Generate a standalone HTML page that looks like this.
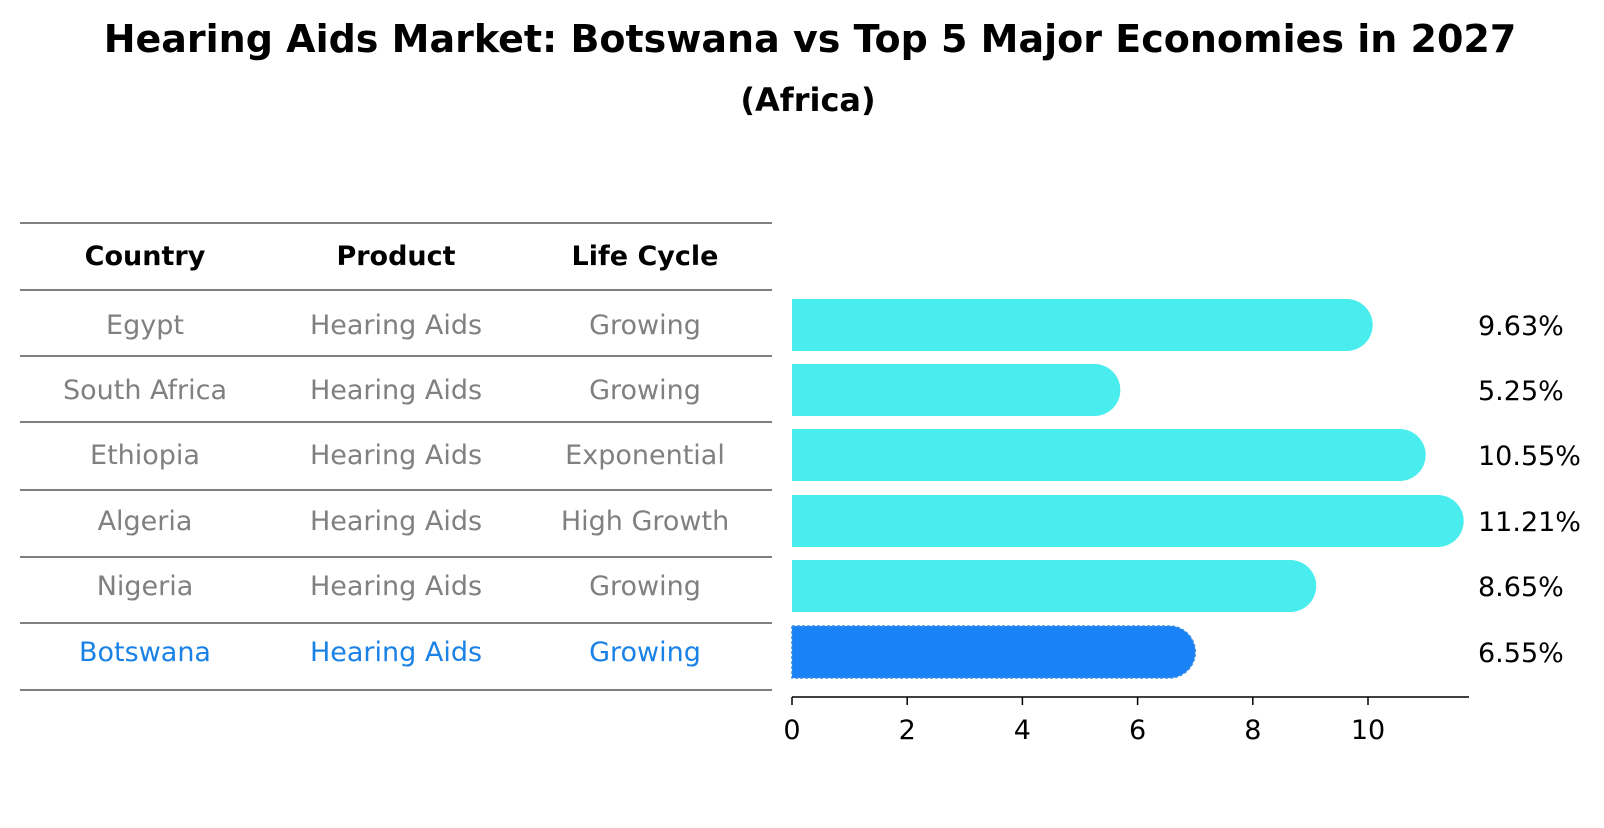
<!DOCTYPE html>
<html><head><meta charset="utf-8"><style>
body{margin:0;background:#fff;font-family:"Liberation Sans","DejaVu Sans",sans-serif;}
</style></head><body>
<svg width="1604" height="823" xmlns="http://www.w3.org/2000/svg" font-family="DejaVu Sans, Liberation Sans, sans-serif">
<text x="810" y="52" text-anchor="middle" font-size="38" font-weight="bold">Hearing Aids Market: Botswana vs Top 5 Major Economies in 2027</text>
<text x="808" y="111" text-anchor="middle" font-size="32" font-weight="bold">(Africa)</text>
<g id="table"></g>
<g id="bars"></g>
</svg>
<script>
const countries=["Egypt","South Africa","Ethiopia","Algeria","Nigeria","Botswana"];
const products=["Hearing Aids","Hearing Aids","Hearing Aids","Hearing Aids","Hearing Aids","Hearing Aids"];
const lifeCycles=["Growing","Growing","Exponential","High Growth","Growing","Growing"];
const values=[9.63,5.25,10.55,11.21,8.65,6.55];
const ticks=[0,2,4,6,8,10];
const NS="http://www.w3.org/2000/svg";
function mk(tag,attrs,parent){const e=document.createElementNS(NS,tag);for(const k in attrs)e.setAttribute(k,attrs[k]);parent.appendChild(e);return e;}
const tbl=document.getElementById('table'),bars=document.getElementById('bars');
const lines=[223,290,356,422,490,557,623,690];
lines.forEach(y=>{const l=mk('line',{x1:20,x2:772,y1:y,y2:y,stroke:'#000','stroke-width':1.2,'shape-rendering':'crispEdges'},tbl);

});
const cols=[145,396,645];
["Country","Product","Life Cycle"].forEach((h,i)=>{const t=mk('text',{x:cols[i],y:265,'text-anchor':'middle','font-size':27,'font-weight':'bold'},tbl);t.textContent=h;

});
const rowY=[325,390,455,521,586,652];
const xs=v=>792+v*57.6;
countries.forEach((c,i)=>{const col=i===5?'#1a82e6':'#808080';
[c,products[i],lifeCycles[i]].forEach((s,j)=>{const t=mk('text',{x:cols[j],y:rowY[i]+9,'text-anchor':'middle','font-size':27,fill:col},tbl);t.textContent=s;

});
const r=26,w=xs(values[i])-792;
const fill=i===5?'#1a82f7':'#4aeded';
const attrs={d:`M792 ${rowY[i]-r} H${792+w} A${r} ${r} 0 0 1 ${792+w} ${rowY[i]+r} H792 Z`,fill:fill};
if(i===5){attrs.stroke='#3a8ee0';attrs['stroke-width']=1.5;attrs['stroke-dasharray']='3 2';}
const p=mk('path',attrs,bars);


const t=mk('text',{x:1478,y:rowY[i]+10,'font-size':27},bars);t.textContent=values[i].toFixed(2)+'%';

});
const ax=mk('line',{x1:792,x2:1469,y1:697,y2:697,stroke:'#000','stroke-width':1.5},bars);


ticks.forEach(v=>{const l=mk('line',{x1:xs(v),x2:xs(v),y1:697,y2:705,stroke:'#000','stroke-width':1.5},bars);


const t=mk('text',{x:xs(v),y:739,'text-anchor':'middle','font-size':27},bars);t.textContent=v;

});
</script>
</body></html>
